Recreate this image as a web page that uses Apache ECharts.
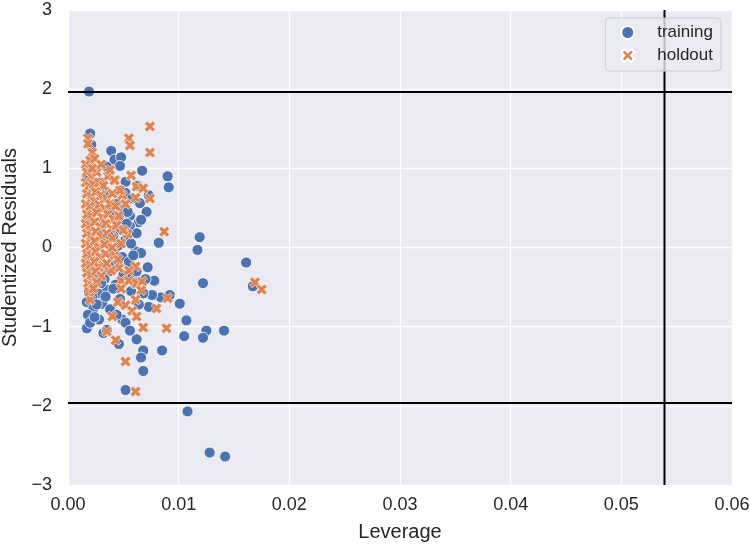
<!DOCTYPE html>
<html>
<head>
<meta charset="utf-8">
<script src="https://cdn.jsdelivr.net/npm/echarts@6/dist/echarts.min.js"></script>
<style>
  html, body { margin: 0; padding: 0; background: #fff; }
  #chart { width: 750px; height: 547px; }
</style>
</head>
<body>
<div id="chart"></div>
<script>
// leverage, studentized residual
const training = [
  [0.0019, 1.97], [0.0020, 1.44], [0.0039, 1.22], [0.0042, 1.11], [0.0048, 1.14],
  [0.0047, 1.03], [0.0035, 1.02], [0.0067, 0.97], [0.0090, 0.90], [0.0091, 0.76],
  [0.0029, 0.82], [0.0052, 0.83], [0.0048, 0.72], [0.0052, 0.69], [0.0073, 0.66],
  [0.0065, 0.56], [0.0071, 0.45], [0.0056, 0.40], [0.0064, 0.32], [0.0056, 0.27],
  [0.0062, 0.18], [0.0082, 0.06], [0.0061, -0.05], [0.0066, -0.07], [0.0119, 0.13],
  [0.0117, -0.03], [0.0161, -0.19], [0.0167, -0.49], [0.0122, -0.45], [0.0092, -0.60],
  [0.0101, -0.71], [0.0107, -0.92], [0.0105, -1.12], [0.0125, -1.05], [0.0122, -1.14],
  [0.0141, -1.05], [0.0108, -2.07], [0.0128, -2.59], [0.0142, -2.64], [0.0072, -0.25],
  [0.0078, -0.42], [0.0035, -0.53], [0.0043, -0.47], [0.0084, -0.63], [0.0076, -0.60],
  [0.0073, -0.75], [0.0031, -0.71], [0.0017, -0.69], [0.0023, -0.77], [0.0028, -0.91],
  [0.0049, -0.91], [0.0040, -0.81], [0.0017, -1.02], [0.0032, -1.08], [0.0035, -1.04],
  [0.0062, -1.16], [0.0046, -1.22], [0.0068, -1.30], [0.0085, -1.30], [0.0066, -1.39],
  [0.0068, -1.56], [0.0052, -1.80],
  [0.0044, 0.55], [0.0050, 0.48], [0.0046, 0.38], [0.0053, 0.30], [0.0048, 0.22],
  [0.0041, 0.15], [0.0052, 0.10], [0.0045, 0.02], [0.0040, -0.05], [0.0049, -0.12],
  [0.0055, -0.18], [0.0043, -0.22], [0.0037, -0.30], [0.0050, -0.35], [0.0058, -0.38],
  [0.0033, -0.40], [0.0041, -0.52], [0.0027, -0.58], [0.0022, -0.62], [0.0019, -0.55],
  [0.0030, -0.45], [0.0025, -0.35], [0.0021, -0.25], [0.0018, -0.10], [0.0023, 0.05],
  [0.0028, 0.20], [0.0020, 0.35], [0.0026, 0.50], [0.0031, 0.65], [0.0024, 0.80],
  [0.0035, 0.70], [0.0038, 0.45], [0.0032, 0.30], [0.0036, 0.10], [0.0029, -0.15],
  [0.0034, -0.62], [0.0047, -0.65], [0.0057, -0.55], [0.0060, -0.45], [0.0062, -0.30],
  [0.0059, -0.10], [0.0057, 0.05], [0.0054, 0.45], [0.0058, 0.62], [0.0021, 1.30],
  [0.0019, 1.05], [0.0017, 0.90], [0.0018, -0.85], [0.0020, -0.95], [0.0024, -0.88],
  [0.0026, -0.72], [0.0038, -0.78], [0.0044, -0.85], [0.0052, -0.95], [0.0056, -1.05],
  [0.0064, -0.72], [0.0068, -0.58], [0.0070, -0.40], [0.0066, 0.35], [0.0063, 0.78]
];

const holdout = [
  [0.0074, 1.53], [0.0055, 1.38], [0.0056, 1.29], [0.0074, 1.20], [0.0018, 1.38],
  [0.0018, 1.31], [0.0022, 1.20], [0.0023, 0.98], [0.0036, 0.90], [0.0043, 0.85],
  [0.0057, 0.91], [0.0062, 0.77], [0.0068, 0.75], [0.0049, 0.66], [0.0061, 0.63],
  [0.0074, 0.62], [0.0087, 0.20], [0.0054, 0.17], [0.0037, 0.05], [0.0061, -0.24],
  [0.0055, -0.29], [0.0046, -0.26], [0.0039, -0.29], [0.0032, -0.23], [0.0048, -0.42],
  [0.0055, -0.42], [0.0062, -0.45], [0.0067, -0.43], [0.0066, -0.54], [0.0048, -0.52],
  [0.0020, -0.66], [0.0045, -0.69], [0.0061, -0.66], [0.0052, -0.73], [0.0058, -0.80],
  [0.0062, -0.87], [0.0080, -0.77], [0.0090, -0.64], [0.0040, -0.87], [0.0068, -1.01],
  [0.0089, -1.02], [0.0035, -1.06], [0.0043, -1.17], [0.0052, -1.44], [0.0061, -1.82],
  [0.0169, -0.44], [0.0175, -0.53],
  [0.0016, 1.05], [0.0020, 1.10], [0.0024, 1.12], [0.0017, 0.95], [0.0021, 0.90],
  [0.0026, 0.95], [0.0016, 0.82], [0.0019, 0.78], [0.0023, 0.80], [0.0028, 0.82],
  [0.0032, 0.78], [0.0017, 0.68], [0.0021, 0.65], [0.0025, 0.70], [0.0030, 0.66],
  [0.0035, 0.62], [0.0040, 0.68], [0.0016, 0.55], [0.0020, 0.52], [0.0024, 0.58],
  [0.0028, 0.54], [0.0033, 0.50], [0.0038, 0.55], [0.0043, 0.52], [0.0017, 0.42],
  [0.0021, 0.40], [0.0026, 0.44], [0.0031, 0.38], [0.0036, 0.42], [0.0041, 0.36],
  [0.0046, 0.40], [0.0016, 0.30], [0.0020, 0.28], [0.0024, 0.32], [0.0029, 0.26],
  [0.0034, 0.30], [0.0039, 0.24], [0.0044, 0.28], [0.0017, 0.18], [0.0021, 0.15],
  [0.0025, 0.20], [0.0030, 0.14], [0.0035, 0.18], [0.0040, 0.12], [0.0016, 0.05],
  [0.0020, 0.02], [0.0024, 0.08], [0.0028, 0.00], [0.0033, 0.04], [0.0017, -0.08],
  [0.0021, -0.10], [0.0025, -0.05], [0.0029, -0.12], [0.0034, -0.08], [0.0042, -0.10],
  [0.0016, -0.20], [0.0020, -0.22], [0.0024, -0.18], [0.0028, -0.25], [0.0017, -0.32],
  [0.0021, -0.35], [0.0025, -0.30], [0.0030, -0.36], [0.0018, -0.45], [0.0022, -0.48],
  [0.0026, -0.44], [0.0019, -0.56], [0.0023, -0.52], [0.0035, -0.20], [0.0045, -0.15],
  [0.0040, 0.00], [0.0048, 0.05], [0.0050, 0.22], [0.0052, 0.55], [0.0047, 0.72],
  [0.0042, 0.85], [0.0038, 0.98], [0.0030, 1.05], [0.0022, 1.00]
];

const seriesNames = ['training', 'holdout'];
const residualCutoff = 1.965;
const leverageCutoff = 0.0539;
const xTicks = [0, 0.06, 0.01];
const yTicks = [-3, 3, 1];

const FONT = 'Liberation Sans';
const INK = '#262626';
const xMark = 'path://M0,-2L2,-4L4,-2L2,0L4,2L2,4L0,2L-2,4L-4,2L-2,0L-4,-2L-2,-4Z';

const chart = echarts.init(document.getElementById('chart'), null, { renderer: 'canvas' });

const minus = v => String(v).replace('-', '\u2212');

// reference lines, drawn through the axes
function refLine(points) {
  return {
    type: 'line', data: points, silent: true, symbol: 'none', z: 3,
    lineStyle: { color: '#000000', width: 2 }
  };
}

chart.setOption({
  animation: false,
  textStyle: { fontFamily: FONT },
  grid: {
    left: 68, right: 18, top: 10, bottom: 62,
    outerBoundsMode: 'none',
    show: true, backgroundColor: '#eaeaf2', borderWidth: 0
  },
  legend: {
    orient: 'vertical',
    right: 29, top: 18,
    itemWidth: 13, itemHeight: 13, itemGap: 6,
    padding: [6, 8, 7, 15],
    backgroundColor: 'rgba(234,234,242,0.8)',
    borderColor: '#cccccc', borderWidth: 1, borderRadius: 4,
    textStyle: { color: INK, fontSize: 17, fontFamily: FONT, padding: [0, 0, 0, 18] },
    data: [
      { name: seriesNames[0], icon: 'circle' },
      { name: seriesNames[1], icon: xMark }
    ]
  },
  xAxis: {
    type: 'value',
    min: xTicks[0], max: xTicks[1], interval: xTicks[2],
    name: 'Leverage', nameLocation: 'middle', nameGap: 37,
    nameTextStyle: { color: INK, fontSize: 20, fontFamily: FONT },
    axisLine: { show: false }, axisTick: { show: false },
    axisLabel: { color: INK, fontSize: 18, margin: 11, formatter: v => v.toFixed(2) },
    splitLine: { lineStyle: { color: '#ffffff', width: 1.3 } }
  },
  yAxis: {
    type: 'value',
    min: yTicks[0], max: yTicks[1], interval: yTicks[2],
    name: 'Studentized Residuals', nameLocation: 'middle', nameGap: 46,
    nameTextStyle: { color: INK, fontSize: 20, fontFamily: FONT },
    axisLine: { show: false }, axisTick: { show: false },
    axisLabel: { color: INK, fontSize: 18, margin: 16, formatter: minus },
    splitLine: { lineStyle: { color: '#ffffff', width: 1.3 } }
  },
  series: [
    {
      name: seriesNames[0], type: 'scatter', data: training,
      symbol: 'circle', symbolSize: 11, z: 2,
      itemStyle: { color: '#4c72b0', borderColor: '#ffffff', borderWidth: 0.8, opacity: 1 }
    },
    {
      name: seriesNames[1], type: 'scatter', data: holdout,
      symbol: xMark, symbolSize: 11, z: 2,
      itemStyle: { color: '#dd8452', borderColor: '#ffffff', borderWidth: 0.6, opacity: 1 }
    },
    refLine([[xTicks[0], residualCutoff], [xTicks[1], residualCutoff]]),
    refLine([[xTicks[0], -residualCutoff], [xTicks[1], -residualCutoff]]),
    refLine([[leverageCutoff, yTicks[0]], [leverageCutoff, yTicks[1]]])
  ]
});
</script>
</body>
</html>
